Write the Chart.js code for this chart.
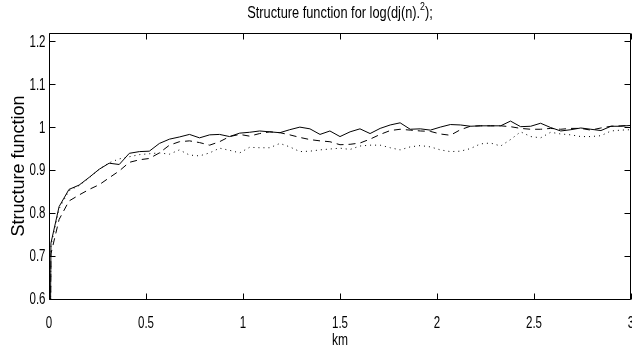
<!DOCTYPE html>
<html>
<head>
<meta charset="utf-8">
<title>Structure function</title>
<script src="https://cdn.jsdelivr.net/npm/chart.js@4/dist/chart.umd.min.js"></script>
<style>
  html, body { margin: 0; padding: 0; background: #fff; }
  #wrap { width: 632px; height: 358px; }
</style>
</head>
<body>
<div id="wrap"><canvas id="sf" width="632" height="358"></canvas></div>
<script>
// Lag distance (km) of each estimate
const lagKm = [0, 0.01, 0.052, 0.103, 0.155, 0.207, 0.259, 0.310, 0.362, 0.414, 0.466,
  0.517, 0.569, 0.621, 0.672, 0.724, 0.776, 0.828, 0.879, 0.931, 0.983,
  1.034, 1.086, 1.138, 1.190, 1.241, 1.293, 1.345, 1.397, 1.448, 1.500,
  1.552, 1.603, 1.655, 1.707, 1.759, 1.810, 1.862, 1.914, 1.966, 2.017,
  2.069, 2.121, 2.172, 2.224, 2.276, 2.328, 2.379, 2.431, 2.483, 2.534,
  2.586, 2.638, 2.690, 2.741, 2.793, 2.845, 2.897, 2.948, 3.000];

// Normalised structure function, three estimates
const sfSolid = [0, 0.730, 0.815, 0.855, 0.865, 0.883, 0.902, 0.916, 0.913, 0.939, 0.943,
  0.944, 0.962, 0.972, 0.977, 0.983, 0.975, 0.982, 0.983, 0.978, 0.986,
  0.988, 0.991, 0.989, 0.987, 0.994, 1.000, 0.996, 0.983, 0.991, 0.978,
  0.989, 0.996, 0.985, 0.997, 1.005, 1.010, 0.995, 0.996, 0.993, 1.000,
  1.006, 1.005, 1.002, 1.003, 1.003, 1.003, 1.014, 1.001, 1.002, 1.009,
  0.999, 0.991, 0.994, 0.998, 0.995, 0.992, 1.002, 1.002, 1.004];

const sfDashed = [0, 0.705, 0.785, 0.828, 0.842, 0.855, 0.866, 0.882, 0.898, 0.918, 0.924,
  0.927, 0.940, 0.958, 0.966, 0.968, 0.964, 0.958, 0.966, 0.978, 0.983,
  0.979, 0.985, 0.989, 0.987, 0.982, 0.976, 0.971, 0.968, 0.966, 0.959,
  0.960, 0.963, 0.972, 0.983, 0.992, 0.995, 0.993, 0.991, 0.990, 0.984,
  0.981, 0.994, 1.002, 1.003, 1.003, 1.003, 1.001, 0.997, 0.995, 0.995,
  0.997, 0.995, 0.997, 0.997, 0.993, 0.998, 1.002, 1.003, 1.004];

const sfDotted = [0, 0.725, 0.810, 0.852, 0.864, 0.882, 0.902, 0.917, 0.926, 0.931, 0.936,
  0.938, 0.940, 0.937, 0.947, 0.935, 0.933, 0.940, 0.951, 0.946, 0.940,
  0.953, 0.952, 0.952, 0.962, 0.954, 0.943, 0.944, 0.947, 0.949, 0.951,
  0.948, 0.956, 0.958, 0.958, 0.952, 0.947, 0.954, 0.957, 0.954, 0.947,
  0.943, 0.944, 0.950, 0.961, 0.963, 0.956, 0.971, 0.989, 0.978, 0.975,
  0.988, 0.984, 0.982, 0.978, 0.978, 0.980, 0.991, 0.993, 0.994];

// Axis ticks
const xTicks = [0, 0.5, 1, 1.5, 2, 2.5, 3];
const yTicks = [0.6, 0.7, 0.8, 0.9, 1.0, 1.1, 1.2];

const FONT = "'Liberation Sans', Arial, Helvetica, sans-serif";

function pts(ys) { return lagKm.map((x, i) => ({ x: x, y: ys[i] })); }

// Draw a string horizontally condensed (narrow Helvetica look)
function narrowText(ctx, str, x, y, size, squeeze, align) {
  ctx.save();
  ctx.font = size + 'px ' + FONT;
  ctx.translate(x, y);
  ctx.scale(squeeze, 1);
  ctx.textAlign = align;
  ctx.fillText(str, 0, 0);
  ctx.restore();
}

// Boxed axes with inward ticks on all four sides, tick labels, x label and title
const boxAxes = {
  id: 'boxAxes',
  afterDatasetsDraw(chart) {
    const { ctx, chartArea: a, scales: { x, y } } = chart;
    const L = a.left + 0.5, R = a.right - 0.5, T = a.top + 0.5, B = a.bottom + 0.5;
    const len = 6;
    ctx.save();
    ctx.strokeStyle = '#000';
    ctx.lineWidth = 1;
    ctx.beginPath();
    ctx.rect(L, T, R - L, B - T);
    xTicks.forEach(v => {
      const px = Math.round(x.getPixelForValue(v)) + 0.5;
      ctx.moveTo(px, B); ctx.lineTo(px, B - len);
      ctx.moveTo(px, T); ctx.lineTo(px, T + len);
    });
    yTicks.forEach(v => {
      const py = Math.round(y.getPixelForValue(v)) + 0.5;
      ctx.moveTo(L, py); ctx.lineTo(L + len, py);
      ctx.moveTo(R, py); ctx.lineTo(R - len, py);
    });
    ctx.stroke();

    ctx.fillStyle = '#000';
    ctx.textBaseline = 'middle';
    xTicks.forEach(v => narrowText(ctx, String(v), x.getPixelForValue(v), B + 24, 16, 0.72, 'center'));
    yTicks.forEach(v => narrowText(ctx, String(v), L - 4, y.getPixelForValue(v) + 1, 16, 0.72, 'right'));
    narrowText(ctx, 'km', (a.left + a.right) / 2, 341, 16, 0.75, 'center');

    // title with superscript exponent
    const main = 'Structure function for log(dj(n).';
    const sup = '2';
    const tail = ');';
    const sq = 0.8;
    ctx.textBaseline = 'alphabetic';
    ctx.font = '16px ' + FONT;
    const w1 = ctx.measureText(main).width * sq;
    const w3 = ctx.measureText(tail).width * sq;
    ctx.font = '11px ' + FONT;
    const w2 = ctx.measureText(sup).width * sq;
    const cx = (a.left + a.right) / 2;
    const sx = cx - (w1 + w2 + w3) / 2;
    const base = 18;
    narrowText(ctx, main, sx, base, 16, sq, 'left');
    narrowText(ctx, sup, sx + w1, base - 8, 11, sq, 'left');
    narrowText(ctx, tail, sx + w1 + w2, base, 16, sq, 'left');
    ctx.restore();
  }
};

const lineDefaults = { borderColor: '#000', borderWidth: 1, pointRadius: 0, tension: 0, fill: false };

new Chart(document.getElementById('sf'), {
  type: 'line',
  data: {
    datasets: [
      Object.assign({ label: 'solid', data: pts(sfSolid) }, lineDefaults),
      Object.assign({ label: 'dashed', data: pts(sfDashed), borderDash: [7, 5] }, lineDefaults),
      Object.assign({ label: 'dotted', data: pts(sfDotted), borderDash: [1, 4], borderColor: '#333' }, lineDefaults)
    ]
  },
  options: {
    responsive: false,
    animation: false,
    devicePixelRatio: 1,
    layout: { padding: { top: 33, right: 1, left: 0, bottom: 0 } },
    plugins: { legend: { display: false }, tooltip: { enabled: false }, title: { display: false } },
    scales: {
      x: {
        type: 'linear', min: 0, max: 3,
        grid: { display: false }, border: { display: false },
        afterBuildTicks: s => { s.ticks = xTicks.map(v => ({ value: v })); },
        afterFit: s => { s.height = 59; s.paddingLeft = 0; s.paddingRight = 0; },
        ticks: { display: false }
      },
      y: {
        type: 'linear', min: 0.6, max: 1.219,
        grid: { display: false }, border: { display: false },
        afterBuildTicks: s => { s.ticks = yTicks.map(v => ({ value: v })); },
        afterFit: s => { s.width = 49; s.paddingTop = 0; s.paddingBottom = 0; },
        ticks: { display: false },
        title: { display: true, text: 'Structure function', color: '#000',
                 font: { family: FONT, size: 18 },
                 padding: { top: 8, bottom: 0 } }
      }
    }
  },
  plugins: [boxAxes]
});
</script>
</body>
</html>
